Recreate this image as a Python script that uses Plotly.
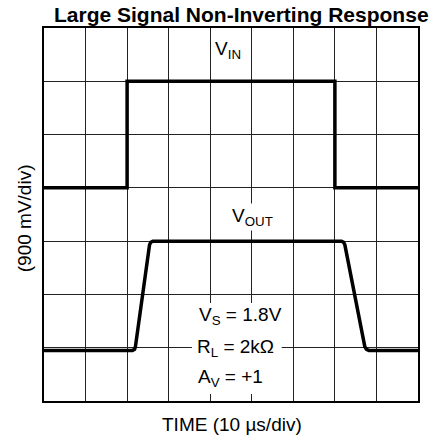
import plotly.graph_objects as go

# Data (divisions)
time_in = [0, 2, 2, 7, 7, 9]
vin = [4, 4, 6, 6, 4, 4]

time_out = [0, 2.13, 2.18, 2.20, 2.54, 2.57, 2.62, 7.16, 7.21, 7.24, 7.72, 7.76, 7.82, 9]
vout = [0.95, 0.95, 0.97, 1.02, 2.93, 2.98, 3.0, 3.0, 2.98, 2.93, 1.02, 0.97, 0.95, 0.95]

x_divs = 9
y_divs = 7

title_text = "Large Signal Non-Inverting Response"
x_title = "TIME (10 µs/div)"
y_title = "(900 mV/div)"
labels = ["V<sub>S</sub> = 1.8V", "R<sub>L</sub> = 2kΩ", "A<sub>V</sub> = +1"]

FONT = "Liberation Sans, Arial, sans-serif"

fig = go.Figure()
fig.add_trace(go.Scatter(x=time_in, y=vin, mode="lines",
                         line=dict(color="black", width=3.5), hoverinfo="skip"))
fig.add_trace(go.Scatter(x=time_out, y=vout, mode="lines",
                         line=dict(color="black", width=3.5), hoverinfo="skip"))

fig.add_shape(type="rect", x0=3.56, x1=5.72, y0=0.13, y1=1.84,
              fillcolor="white", line=dict(width=0), layer="between")

ann = []
ann.append(dict(text="<b>" + title_text + "</b>", x=0.527, y=1.035, xref="paper", yref="paper",
                xanchor="center", yanchor="middle", showarrow=False,
                font=dict(size=21, color="black", family=FONT)))
ann.append(dict(text=x_title, x=0.504, y=-0.062, xref="paper", yref="paper",
                xanchor="center", yanchor="middle", showarrow=False,
                font=dict(size=19, color="black", family=FONT)))
ann.append(dict(text=y_title, x=-0.0535, y=0.49, xref="paper", yref="paper",
                xanchor="center", yanchor="middle", showarrow=False, textangle=-90,
                font=dict(size=19, color="black", family=FONT)))
ann.append(dict(text="V<sub>IN</sub>", x=4.06, y=6.58, xref="x", yref="y",
                xanchor="left", yanchor="middle", showarrow=False,
                font=dict(size=19, color="black", family=FONT)))
ann.append(dict(text="V<sub>OUT</sub>", x=4.47, y=3.45, xref="x", yref="y",
                xanchor="left", yanchor="middle", showarrow=False, bgcolor="white",
                font=dict(size=19, color="black", family=FONT)))
for lab, yy, xx in zip(labels, [1.60, 0.99, 0.44], [3.68, 3.63, 3.65]):
    ann.append(dict(text=lab, x=xx, y=yy, xref="x", yref="y",
                    xanchor="left", yanchor="middle", showarrow=False,
                    font=dict(size=19, color="black", family=FONT)))

fig.update_layout(
    width=439, height=443,
    margin=dict(l=44, r=21, t=28, b=42),
    paper_bgcolor="white", plot_bgcolor="white",
    showlegend=False,
    annotations=ann,
    font=dict(family=FONT, color="black"),
)
fig.update_xaxes(range=[0, x_divs], dtick=1, tick0=0, showgrid=True, gridcolor="#222222",
                 gridwidth=1, showticklabels=False, ticks="", zeroline=False,
                 showline=True, linecolor="black", linewidth=2, mirror=True, fixedrange=True)
fig.update_yaxes(range=[0, y_divs], dtick=1, tick0=0, showgrid=True, gridcolor="#222222",
                 gridwidth=1, showticklabels=False, ticks="", zeroline=False,
                 showline=True, linecolor="black", linewidth=2, mirror=True, fixedrange=True)

fig.write_html("out.html", config={"displayModeBar": False},
               post_script="document.body.style.margin='0';document.body.style.overflow='hidden';")
